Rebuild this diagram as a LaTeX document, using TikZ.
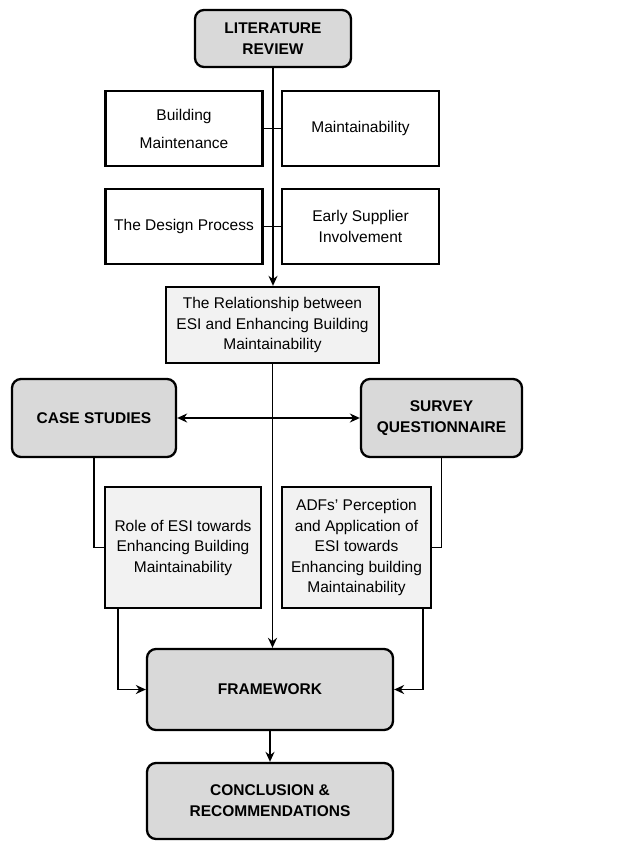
\documentclass[tikz,border=0pt]{standalone}
\usepackage{fontspec}
\setmainfont{Liberation Sans}
\usepackage{tikz}
\usetikzlibrary{arrows.meta, positioning, calc}
\usepackage{xcolor}
\definecolor{boxgray}{HTML}{D9D9D9}
\definecolor{boxlight}{HTML}{F2F2F2}

\tikzset{
  mainbox/.style={draw, line width=2.3pt, rounded corners=9pt, fill=boxgray, align=center, font=\bfseries\fontsize{15.5}{21}\selectfont, inner sep=2pt},
  topicbox/.style={draw, line width=2.3pt, fill=white, align=center, font=\fontsize{15.5}{21}\selectfont, minimum width=157pt, minimum height=75pt, inner sep=2pt},
  resbox/.style={draw, line width=2.3pt, fill=boxlight, align=center, font=\fontsize{15.5}{20.5}\selectfont, inner sep=2pt},
  link/.style={line width=1.9pt},
  flow/.style={line width=1.9pt, -{Stealth[length=10pt, width=9pt]}}
}

\begin{document}
\begin{tikzpicture}[x=1pt, y=-1pt]
      \useasboundingbox (0,0) rectangle (627,843);
      \node[mainbox, minimum width=156pt, minimum height=57pt] (lit) at (273, 38.5) {LITERATURE\\REVIEW};
      \node[topicbox, font=\fontsize{15.5}{28}\selectfont] (bm) at (184, 128.5) {Building\\Maintenance};
      \node[topicbox] (mt) at (360.5, 128.5) {Maintainability};
      \node[topicbox] (dp) at (184, 226.5) {The Design Process};
      \node[topicbox] (esi) at (360.5, 226.5) {Early Supplier\\Involvement};
      \node[resbox, minimum width=213pt, minimum height=76pt] (rel) at (272.5, 325) {The Relationship between\\ESI and Enhancing Building\\Maintainability};
      \node[mainbox, minimum width=164pt, minimum height=78pt] (cs) at (94, 418) {CASE STUDIES};
      \node[mainbox, minimum width=161pt, minimum height=78pt] (sq) at (441.5, 418) {SURVEY\\QUESTIONNAIRE};
      \node[resbox, minimum width=156pt, minimum height=121pt] (role) at (183, 547.5) {Role of ESI towards\\Enhancing Building\\Maintainability};
      \node[resbox, minimum width=149pt, minimum height=121pt] (adf) at (356.5, 547.5) {ADFs' Perception\\and Application of\\ESI towards\\Enhancing building\\Maintainability};
      \node[mainbox, minimum width=246pt, minimum height=81pt] (fw) at (270, 689.5) {FRAMEWORK};
      \node[mainbox, minimum width=246pt, minimum height=76pt] (conc) at (270, 801) {CONCLUSION \&\\RECOMMENDATIONS};
      % literature branch
      \draw[flow] (lit.south) -- (lit.south |- rel.north);
      \draw[link] (bm.east) -- (mt.west);
      \draw[link] (dp.east) -- (esi.west);
      % methods
      \draw[line width=1.9pt, {Stealth[length=10pt, width=9pt]}-{Stealth[length=10pt, width=9pt]}] (cs.east) -- (sq.west);
      \draw[flow] (rel.south) -- (rel.south |- fw.north);
      \draw[link] (cs.south) |- (role.west);
      \draw[link] (sq.south) |- (adf.east);
      \draw[flow] ($(role.south west)+(14,0)$) |- (fw.west);
      \draw[flow] ($(adf.south east)+(-9,0)$) |- (fw.east);
      \draw[flow] (fw.south) -- (conc.north);
    \end{tikzpicture}
\end{document}
